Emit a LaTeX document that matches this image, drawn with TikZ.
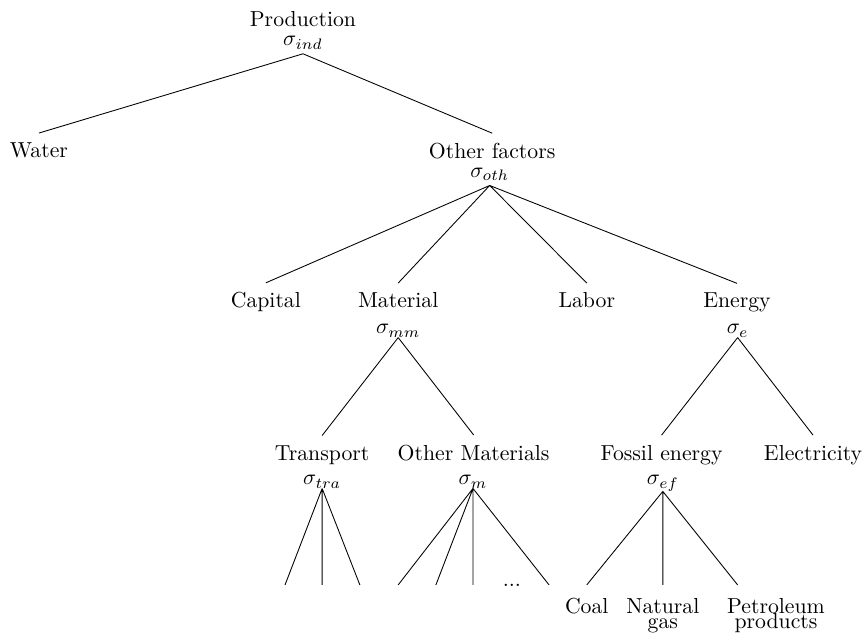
\documentclass[tikz,border=0pt]{standalone}
\usetikzlibrary{positioning}

\tikzset{
  fac/.style={inner sep=0pt, outer ysep=4.5pt, anchor=base},
  sig/.style={inner sep=0pt, anchor=base},
  sigtop/.style={sig, outer ysep=2.2pt},
  leaf/.style={inner sep=0pt, outer ysep=6pt, anchor=north, align=center}
}

\begin{document}
\begin{tikzpicture}
\useasboundingbox (0,0) rectangle (13.99,-10.25);

% top level
\node[fac] (prod) at (4.90,-0.43) {Production};
\node[sigtop] (sind) at (4.90,-0.74) {$\sigma_{ind}$};

\node[fac] (water) at (0.63,-2.55) {Water};
\node[fac] (oth) at (7.96,-2.56) {Other factors};
\node[sigtop] (soth) at (7.92,-2.87) {$\sigma_{oth}$};

% factors
\node[fac] (cap) at (4.30,-4.98) {Capital};
\node[fac] (mat) at (6.44,-4.98) {Material};
\node[sig] (smm) at (6.44,-5.40) {$\sigma_{mm}$};
\node[fac] (lab) at (9.49,-4.98) {Labor};
\node[fac] (ene) at (11.92,-4.98) {Energy};
\node[sig] (se) at (11.93,-5.40) {$\sigma_e$};

\node[fac] (tra) at (5.21,-7.44) {Transport};
\node[sig] (stra) at (5.21,-7.84) {$\sigma_{tra}$};
\node[fac] (othm) at (7.66,-7.44) {Other Materials};
\node[sig] (sm) at (7.65,-7.84) {$\sigma_m$};
\node[fac] (fos) at (10.70,-7.44) {Fossil energy};
\node[sig] (sef) at (10.72,-7.84) {$\sigma_{ef}$};
\node[fac] (ele) at (13.15,-7.44) {Electricity};

% bottom row
\coordinate (t1) at (4.61,-9.46);
\coordinate (t2) at (5.21,-9.46);
\coordinate (t3) at (5.82,-9.46);
\coordinate (m1) at (6.44,-9.46);
\coordinate (m2) at (7.05,-9.46);
\coordinate (m3) at (7.65,-9.46);
\coordinate (m4) at (8.88,-9.46);
\node[sig] (dots) at (8.28,-9.49) {...};

\node[leaf] (coal) at (9.49,-9.46) {Coal};
\node[leaf] (gas) at (10.72,-9.46) {Natural\\[-5pt]gas};
\node[leaf] (pet) at (12.55,-9.46) {Petroleum\\[-5pt]products};

\draw
    (sind.south) -- (water.north)
    (sind.south) -- (oth.north)
    (soth.south) -- (cap.north)
    (soth.south) -- (mat.north)
    (soth.south) -- (lab.north)
    (soth.south) -- (ene.north)
    (smm.south) -- (tra.north)
    (smm.south) -- (othm.north)
    (se.south) -- (fos.north)
    (se.south) -- (ele.north)
    (stra.south) -- (t1)
    (stra.south) -- (t2)
    (stra.south) -- (t3)
    (sm.south) -- (m1)
    (sm.south) -- (m2)
    (sm.south) -- (m3)
    (sm.south) -- (m4)
    (sef.south) -- (coal.north)
    (sef.south) -- (gas.north)
    (sef.south) -- ([xshift=5pt]pet.north west)
    ;
\end{tikzpicture}
\end{document}
